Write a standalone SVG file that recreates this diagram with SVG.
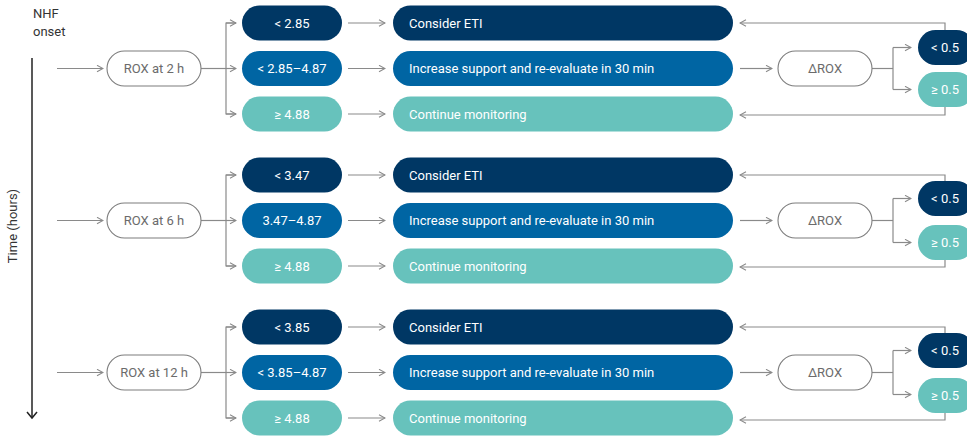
<svg xmlns="http://www.w3.org/2000/svg" width="967" height="437" viewBox="0 0 967 437">
<defs>
<marker id="ah" markerWidth="8" markerHeight="8" refX="7" refY="4" orient="auto" markerUnits="userSpaceOnUse">
<path d="M1,0.8 L7,4 L1,7.2" fill="none" stroke="#8a8a8a" stroke-width="1.1"/>
</marker>
<marker id="ahk" markerWidth="12" markerHeight="10" refX="6" refY="8" orient="auto" markerUnits="userSpaceOnUse">
</marker>
<style>
text{font-family:Roboto,"Liberation Sans",sans-serif;font-size:13px}
.w{fill:#fff}
.g{fill:#6b6b6b}
.c{text-anchor:middle}
.navy{fill:#003764}
.blue{fill:#0065a3}
.teal{fill:#67c2bc}
.out{fill:#fff;stroke:#7d7d7d;stroke-width:1.1}
.ln{fill:none;stroke:#8a8a8a;stroke-width:1.2}
.ar{fill:none;stroke:#8a8a8a;stroke-width:1.2;marker-end:url(#ah)}
</style>
</defs>
<g id="axis">
<text x="33" y="18" fill="#333">NHF</text>
<text x="33" y="36" fill="#333">onset</text>
<line x1="32" y1="58" x2="32" y2="418" stroke="#222" stroke-width="1.5"/>
<path d="M27,412 L32,418 L37,412" fill="none" stroke="#222" stroke-width="1.5"/>
<text transform="translate(17,226) rotate(-90)" class="c" fill="#333">Time (hours)</text>
</g>
<g id="connectors">
<!-- row 1 (c=68.5) -->
<line class="ar" x1="57" y1="68.5" x2="103" y2="68.5"/>
<line class="ln" x1="201" y1="68.5" x2="226" y2="68.5"/>
<path class="ln" d="M236,23 H226 V114 H236"/>
<line class="ar" x1="226" y1="23" x2="236" y2="23"/>
<line class="ar" x1="226" y1="68.5" x2="236" y2="68.5"/>
<line class="ar" x1="226" y1="114" x2="236" y2="114"/>
<line class="ar" x1="348" y1="23" x2="385" y2="23"/>
<line class="ar" x1="348" y1="68.5" x2="385" y2="68.5"/>
<line class="ar" x1="348" y1="114" x2="385" y2="114"/>
<line class="ar" x1="740" y1="68.5" x2="772" y2="68.5"/>
<line class="ln" x1="872" y1="68.5" x2="893" y2="68.5"/>
<path class="ln" d="M893,47.5 V89.5"/>
<line class="ar" x1="893" y1="47.5" x2="911" y2="47.5"/>
<line class="ar" x1="893" y1="89.5" x2="911" y2="89.5"/>
<path class="ar" d="M945,30 V23 H740"/>
<path class="ar" d="M945,107 V115 H740"/>
<!-- row 2 (c=220.5) -->
<line class="ar" x1="57" y1="220.5" x2="103" y2="220.5"/>
<line class="ln" x1="201" y1="220.5" x2="226" y2="220.5"/>
<path class="ln" d="M236,175 H226 V266 H236"/>
<line class="ar" x1="226" y1="175" x2="236" y2="175"/>
<line class="ar" x1="226" y1="220.5" x2="236" y2="220.5"/>
<line class="ar" x1="226" y1="266" x2="236" y2="266"/>
<line class="ar" x1="348" y1="175" x2="385" y2="175"/>
<line class="ar" x1="348" y1="220.5" x2="385" y2="220.5"/>
<line class="ar" x1="348" y1="266" x2="385" y2="266"/>
<line class="ar" x1="740" y1="220.5" x2="772" y2="220.5"/>
<line class="ln" x1="872" y1="220.5" x2="893" y2="220.5"/>
<path class="ln" d="M893,198.5 V242.5"/>
<line class="ar" x1="893" y1="198.5" x2="911" y2="198.5"/>
<line class="ar" x1="893" y1="242.5" x2="911" y2="242.5"/>
<path class="ar" d="M945,181 V175 H740"/>
<path class="ar" d="M945,260 V267 H740"/>
<!-- row 3 (c=372.5) -->
<line class="ar" x1="57" y1="372.5" x2="103" y2="372.5"/>
<line class="ln" x1="201" y1="372.5" x2="226" y2="372.5"/>
<path class="ln" d="M236,327 H226 V418 H236"/>
<line class="ar" x1="226" y1="327" x2="236" y2="327"/>
<line class="ar" x1="226" y1="372.5" x2="236" y2="372.5"/>
<line class="ar" x1="226" y1="418" x2="236" y2="418"/>
<line class="ar" x1="348" y1="327" x2="385" y2="327"/>
<line class="ar" x1="348" y1="372.5" x2="385" y2="372.5"/>
<line class="ar" x1="348" y1="418" x2="385" y2="418"/>
<line class="ar" x1="740" y1="372.5" x2="772" y2="372.5"/>
<line class="ln" x1="872" y1="372.5" x2="893" y2="372.5"/>
<path class="ln" d="M893,350.5 V394.5"/>
<line class="ar" x1="893" y1="350.5" x2="911" y2="350.5"/>
<line class="ar" x1="893" y1="394.5" x2="911" y2="394.5"/>
<path class="ar" d="M945,333 V327 H740"/>
<path class="ar" d="M945,413 V420 H740"/>
</g>
<!-- Row 1 nodes -->
<g id="rox2"><rect class="out" x="107" y="51" width="94" height="35" rx="17.5"/><text class="g c" x="154" y="73">ROX at 2 h</text></g>
<g id="r1a"><rect class="navy" x="242" y="5.5" width="100" height="35" rx="17.5"/><text class="w c" x="292" y="27.5">&lt; 2.85</text></g>
<g id="r1b"><rect class="blue" x="242" y="51" width="100" height="35" rx="17.5"/><text class="w c" x="292" y="73">&lt; 2.85–4.87</text></g>
<g id="r1c"><rect class="teal" x="242" y="96.5" width="100" height="35" rx="17.5"/><text class="w c" x="292" y="118.5">≥ 4.88</text></g>
<g id="a1a"><rect class="navy" x="393" y="5.5" width="340" height="35" rx="17.5"/><text class="w" x="409" y="27.5">Consider ETI</text></g>
<g id="a1b"><rect class="blue" x="393" y="51" width="340" height="35" rx="17.5"/><text class="w" x="409" y="73">Increase support and re-evaluate in 30 min</text></g>
<g id="a1c"><rect class="teal" x="393" y="96.5" width="340" height="35" rx="17.5"/><text class="w" x="409" y="118.5">Continue monitoring</text></g>
<g id="d1"><rect class="out" x="778" y="51" width="94" height="35" rx="17.5"/><text class="g c" x="825" y="73">ΔROX</text></g>
<g id="d1a"><rect class="navy" x="918" y="30" width="56" height="35" rx="17.5"/><text class="w c" x="945" y="52">&lt; 0.5</text></g>
<g id="d1b"><rect class="teal" x="918" y="72" width="56" height="35" rx="17.5"/><text class="w c" x="945" y="94">≥ 0.5</text></g>
<!-- Row 2 nodes -->
<g id="rox6"><rect class="out" x="107" y="203" width="94" height="35" rx="17.5"/><text class="g c" x="154" y="225">ROX at 6 h</text></g>
<g id="r2a"><rect class="navy" x="242" y="157.5" width="100" height="35" rx="17.5"/><text class="w c" x="292" y="179.5">&lt; 3.47</text></g>
<g id="r2b"><rect class="blue" x="242" y="203" width="100" height="35" rx="17.5"/><text class="w c" x="292" y="225">3.47–4.87</text></g>
<g id="r2c"><rect class="teal" x="242" y="248.5" width="100" height="35" rx="17.5"/><text class="w c" x="292" y="270.5">≥ 4.88</text></g>
<g id="a2a"><rect class="navy" x="393" y="157.5" width="340" height="35" rx="17.5"/><text class="w" x="409" y="179.5">Consider ETI</text></g>
<g id="a2b"><rect class="blue" x="393" y="203" width="340" height="35" rx="17.5"/><text class="w" x="409" y="225">Increase support and re-evaluate in 30 min</text></g>
<g id="a2c"><rect class="teal" x="393" y="248.5" width="340" height="35" rx="17.5"/><text class="w" x="409" y="270.5">Continue monitoring</text></g>
<g id="d2"><rect class="out" x="778" y="203" width="94" height="35" rx="17.5"/><text class="g c" x="825" y="225">ΔROX</text></g>
<g id="d2a"><rect class="navy" x="918" y="181" width="56" height="35" rx="17.5"/><text class="w c" x="945" y="203">&lt; 0.5</text></g>
<g id="d2b"><rect class="teal" x="918" y="225" width="56" height="35" rx="17.5"/><text class="w c" x="945" y="247">≥ 0.5</text></g>
<!-- Row 3 nodes -->
<g id="rox12"><rect class="out" x="107" y="355" width="94" height="35" rx="17.5"/><text class="g c" x="154" y="377">ROX at 12 h</text></g>
<g id="r3a"><rect class="navy" x="242" y="309.5" width="100" height="35" rx="17.5"/><text class="w c" x="292" y="331.5">&lt; 3.85</text></g>
<g id="r3b"><rect class="blue" x="242" y="355" width="100" height="35" rx="17.5"/><text class="w c" x="292" y="377">&lt; 3.85–4.87</text></g>
<g id="r3c"><rect class="teal" x="242" y="400.5" width="100" height="35" rx="17.5"/><text class="w c" x="292" y="422.5">≥ 4.88</text></g>
<g id="a3a"><rect class="navy" x="393" y="309.5" width="340" height="35" rx="17.5"/><text class="w" x="409" y="331.5">Consider ETI</text></g>
<g id="a3b"><rect class="blue" x="393" y="355" width="340" height="35" rx="17.5"/><text class="w" x="409" y="377">Increase support and re-evaluate in 30 min</text></g>
<g id="a3c"><rect class="teal" x="393" y="400.5" width="340" height="35" rx="17.5"/><text class="w" x="409" y="422.5">Continue monitoring</text></g>
<g id="d3"><rect class="out" x="778" y="355" width="94" height="35" rx="17.5"/><text class="g c" x="825" y="377">ΔROX</text></g>
<g id="d3a"><rect class="navy" x="918" y="333" width="56" height="35" rx="17.5"/><text class="w c" x="945" y="355">&lt; 0.5</text></g>
<g id="d3b"><rect class="teal" x="918" y="378" width="56" height="35" rx="17.5"/><text class="w c" x="945" y="400">≥ 0.5</text></g>
</svg>
